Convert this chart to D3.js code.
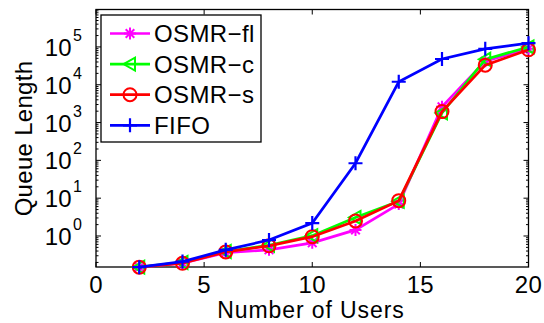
<!DOCTYPE html>
<html>
<head>
<meta charset="utf-8"/>
<style>
    body { margin: 0; background: #fff; font-family: 'Liberation Sans', Arial, Helvetica, sans-serif; }
    svg { display: block; }
    .frame { fill: none; stroke: #000; stroke-width: 1.3px; }
    .tick { stroke: #000; stroke-width: 1px; }
    .lbl { font-size: 24px; fill: #000; letter-spacing: 0.3px; }
    .xlab { font-size: 23px; fill: #000; letter-spacing: 0.9px; }
    .leg text { font-size: 24px; fill: #000; letter-spacing: 0.4px; }
</style>
<script src="https://cdnjs.cloudflare.com/ajax/libs/d3/7.8.5/d3.min.js"></script>
</head>
<body>
<svg id="chart" width="544" height="323"></svg>
<script>
const users = [2, 4, 6, 8, 10, 12, 14, 16, 18, 20];

const osmrFl = [0.15, 0.19, 0.36, 0.43, 0.66, 1.45, 7.0, 2600, 42000, 90000];
const osmrC  = [0.15, 0.20, 0.39, 0.57, 1.02, 3.1, 8.3, 1800, 47000, 100000];
const osmrS  = [0.15, 0.19, 0.38, 0.55, 0.96, 2.5, 8.6, 1950, 33000, 84000];
const fifo   = [0.15, 0.21, 0.43, 0.78, 2.2, 84, 12000, 48000, 89000, 126000];

const xTicks = [0, 5, 10, 15, 20];
const yExps = [0, 1, 2, 3, 4, 5];

const series = [
    { name: 'OSMR\u2212fl', values: osmrFl, color: '#ff00ff', marker: 'star' },
    { name: 'OSMR\u2212c',  values: osmrC,  color: '#00ff00', marker: 'tri' },
    { name: 'OSMR\u2212s',  values: osmrS,  color: '#ff0000', marker: 'circle' },
    { name: 'FIFO',         values: fifo,   color: '#0000ff', marker: 'plus' }
];

const svg = d3.select('#chart');
const pLeft = 96, pRight = 528.5, pTop = 9.5, pBottom = 267;

const x = d3.scaleLinear().domain([0, 20]).range([pLeft, pRight]);
const y = d3.scaleLog().domain([Math.pow(10, -0.82), Math.pow(10, 5.99)]).range([pBottom, pTop]);

// ticks
const g = svg.append('g');
xTicks.forEach(t => {
    g.append('line').attr('class', 'tick').attr('x1', x(t)).attr('x2', x(t)).attr('y1', pBottom).attr('y2', pBottom - 5);
    g.append('line').attr('class', 'tick').attr('x1', x(t)).attr('x2', x(t)).attr('y1', pTop).attr('y2', pTop + 5);
    g.append('text').attr('class', 'lbl').attr('x', x(t)).attr('y', 292.5)
        .attr('text-anchor', 'middle').text(t);
});

for (let e = -1; e <= 5; e++) {
    for (let m = 1; m <= 9; m++) {
        const v = m * Math.pow(10, e);
        if (v < y.domain()[0] || v > y.domain()[1]) continue;
        const len = m === 1 ? 5 : 2.5;
        g.append('line').attr('class', 'tick').attr('x1', pLeft).attr('x2', pLeft + len).attr('y1', y(v)).attr('y2', y(v));
        g.append('line').attr('class', 'tick').attr('x1', pRight).attr('x2', pRight - len).attr('y1', y(v)).attr('y2', y(v));
    }
}

yExps.forEach(e => {
    const ty = y(Math.pow(10, e));
    g.append('text').attr('class', 'lbl').attr('x', 72).attr('y', ty + 9)
        .attr('text-anchor', 'end').text('10');
    g.append('text').attr('x', 73).attr('y', ty - 6)
        .attr('font-size', 16).text(e);
});

svg.append('rect').attr('class', 'frame')
    .attr('x', pLeft).attr('y', pTop).attr('width', pRight - pLeft).attr('height', pBottom - pTop);

svg.append('text').attr('class', 'xlab').attr('x', 311).attr('y', 318)
    .attr('text-anchor', 'middle').text('Number of Users');
svg.append('text').attr('class', 'lbl')
    .attr('transform', 'translate(32,138.5) rotate(-90)')
    .attr('text-anchor', 'middle').text('Queue Length');

function drawMarker(sel, type, color) {
    if (type === 'circle') {
        sel.append('circle').attr('r', 6.5).attr('fill', 'none').attr('stroke', color).attr('stroke-width', 2);
    } else if (type === 'tri') {
        sel.append('path').attr('d', 'M-6.5,0L5,-6.5L5,6.5Z').attr('fill', 'none').attr('stroke', color).attr('stroke-width', 2);
    } else if (type === 'plus') {
        sel.append('path').attr('d', 'M-7,0H7M0,-7V7').attr('stroke', color).attr('stroke-width', 2.2);
    } else if (type === 'star') {
        sel.append('path').attr('d', 'M-6,0H6M0,-6V6M-4.3,-4.3L4.3,4.3M-4.3,4.3L4.3,-4.3')
            .attr('stroke', color).attr('stroke-width', 2);
    }
}

const line = d3.line().x((d, i) => x(users[i])).y(d => y(d));

series.forEach(s => {
    svg.append('path').datum(s.values).attr('d', line)
        .attr('fill', 'none').attr('stroke', s.color).attr('stroke-width', 2.7);
    s.values.forEach((v, i) => {
        const m = svg.append('g').attr('transform', `translate(${x(users[i])},${y(v)})`);
        drawMarker(m, s.marker, s.color);
    });
});

// legend
const leg = svg.append('g').attr('class', 'leg');
leg.append('rect').attr('x', 101).attr('y', 15).attr('width', 160).attr('height', 127)
    .attr('fill', '#fff').attr('stroke', '#000').attr('stroke-width', 1.3);
series.forEach((s, i) => {
    const ly = 33.5 + i * 30.6;
    leg.append('line').attr('x1', 110).attr('x2', 150).attr('y1', ly).attr('y2', ly)
        .attr('stroke', s.color).attr('stroke-width', 2.7);
    const m = leg.append('g').attr('transform', `translate(130,${ly})`);
    drawMarker(m, s.marker, s.color);
    leg.append('text').attr('x', 154).attr('y', ly + 8.5).text(s.name);
});
</script>
</body>
</html>
